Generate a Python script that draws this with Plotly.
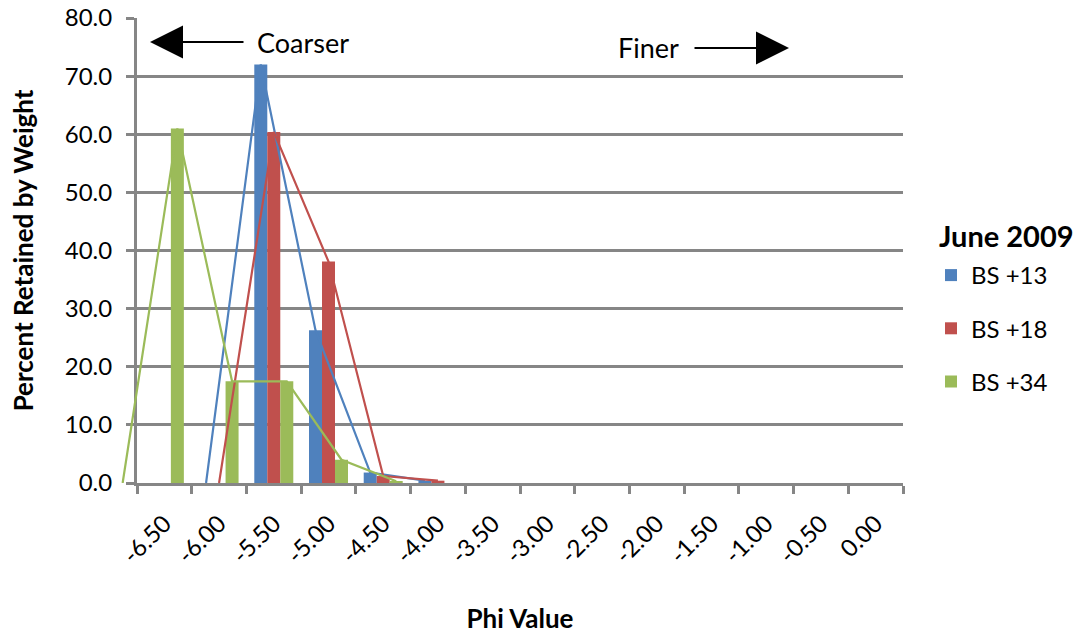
import plotly.graph_objects as go

# Sieve fractions: percent retained per phi class
phi_labels = ["-6.50", "-6.00", "-5.50", "-5.00", "-4.50", "-4.00", "-3.50",
              "-3.00", "-2.50", "-2.00", "-1.50", "-1.00", "-0.50", "0.00"]
bs13 = [0.0, 0.0, 72.0, 26.3, 1.8, 0.4, 0.0, 0.0, 0.0, 0.0, 0.0, 0.0, 0.0, 0.0]
bs18 = [0.0, 0.0, 60.4, 38.1, 1.2, 0.4, 0.0, 0.0, 0.0, 0.0, 0.0, 0.0, 0.0, 0.0]
bs34 = [61.0, 17.5, 17.5, 4.0, 0.3, 0.0, 0.0, 0.0, 0.0, 0.0, 0.0, 0.0, 0.0, 0.0]

# Frequency polygons: class index of each vertex and the percent at it
poly13_idx = [1, 2, 3, 4, 5]
poly13_val = [0.0, 72.0, 26.3, 1.8, 0.4]
poly18_idx = [1, 2, 3, 4, 5]
poly18_val = [0.0, 60.4, 38.1, 1.2, 0.4]
poly34_idx = [-1, 0, 1, 2, 3, 4]
poly34_val = [0.0, 61.0, 17.5, 17.5, 4.0, 0.3]

series_names = ["BS +13", "BS +18", "BS +34"]
legend_heading = "June 2009"
colors = ["#4F81BD", "#C0504D", "#9BBB59"]
grid = "#868686"
FONT = "Lato"

# page geometry (px)
W, H = 1076, 634
PL, PR, PT, PB = 137, 903, 18, 483      # plot area edges
EXTRA = 60                              # room left of the y axis for the polygons
ML = PL - EXTRA
paper_w = PR - ML
paper_h = PB - PT
n = len(phi_labels)
cat_px = (PR - PL) / n
bar_px = 13.0
bargap = 1 - 3 * bar_px / cat_px
bw = (1 - bargap) / 3                   # one bar's width in class units
offsets = [-bw, 0.0, bw]


def px_x(px):
    return (px - ML) / paper_w


def px_y(py):
    return (PB - py) / paper_h


fig = go.Figure()

for name, vals, col in zip(series_names, [bs13, bs18, bs34], colors):
    fig.add_trace(go.Bar(
        x=phi_labels, y=vals, name=name, marker=dict(color=col, line=dict(width=0)),
        legendgroup=name, xaxis="x", yaxis="y",
    ))

for name, idx, vals, col, off in zip(
        series_names,
        [poly13_idx, poly18_idx, poly34_idx],
        [poly13_val, poly18_val, poly34_val],
        colors, offsets):
    fig.add_trace(go.Scatter(
        x=[i + off for i in idx], y=vals, mode="lines",
        line=dict(color=col, width=2.2), showlegend=False,
        xaxis="x2", yaxis="y2", hoverinfo="skip",
    ))

x_left_val = -0.5 - EXTRA / cat_px

fig.update_layout(
    width=W, height=H,
    margin=dict(l=ML, r=W - PR, t=PT, b=H - PB, pad=0),
    paper_bgcolor="white", plot_bgcolor="rgba(0,0,0,0)",
    font=dict(family=FONT, size=24, color="black"),
    barmode="group", bargap=bargap, bargroupgap=0,
    xaxis=dict(
        type="category", categoryorder="array", categoryarray=phi_labels,
        domain=[EXTRA / paper_w, 1], range=[-0.5, n - 0.5],
        tickson="boundaries", ticks="outside", ticklen=8, tickwidth=3,
        tickcolor=grid, showline=True, linecolor=grid, linewidth=3,
        showgrid=False, tickangle=-45, tickfont=dict(family=FONT, size=24),
        ticklabelstandoff=14,
        title=dict(text="Phi Value", font=dict(family=FONT, size=26, weight="bold"),
                   standoff=48),
        automargin=False, fixedrange=True,
    ),
    yaxis=dict(
        range=[0, 80], dtick=10, tickformat=".1f",
        showgrid=True, gridcolor=grid, gridwidth=3,
        showline=True, linecolor=grid, linewidth=3,
        ticks="outside", ticklen=8, tickwidth=3, tickcolor=grid,
        zeroline=False, tickfont=dict(family=FONT, size=24),
        ticklabelstandoff=9,
        title=dict(text="Percent Retained by Weight",
                   font=dict(family=FONT, size=26, weight="bold"), standoff=24),
        automargin=False, fixedrange=True,
    ),
    xaxis2=dict(
        domain=[0, 1], range=[x_left_val, n - 0.5], anchor="y2",
        visible=False, showgrid=False, zeroline=False, fixedrange=True,
    ),
    yaxis2=dict(
        domain=[0, 1], range=[0, 80], anchor="x2", overlaying="y",
        visible=False, showgrid=False, zeroline=False, fixedrange=True,
    ),
    legend=dict(
        x=px_x(931), y=px_y(253), xanchor="left", yanchor="top",
        font=dict(family=FONT, size=24), tracegroupgap=19,
        bgcolor="rgba(0,0,0,0)", itemwidth=30,
    ),
    showlegend=True,
)

# heading over the legend entries
fig.add_annotation(x=px_x(1006), y=px_y(235), xref="paper", yref="paper",
                   xanchor="center", yanchor="middle", text=legend_heading,
                   showarrow=False,
                   font=dict(family=FONT, size=29, weight="bold", color="black"))

# direction hints across the top of the plot
arrow_style = dict(arrowhead=2, arrowsize=3.3, arrowwidth=2, arrowcolor="black")
fig.add_annotation(x=px_x(150), y=px_y(42), xref="paper", yref="paper",
                   text="", showarrow=True, ax=95, ay=0, **arrow_style)
fig.add_annotation(x=px_x(303), y=px_y(43), xref="paper", yref="paper",
                   xanchor="center", yanchor="middle",
                   text="Coarser", showarrow=False,
                   font=dict(family=FONT, size=27, color="black"))
fig.add_annotation(x=px_x(648), y=px_y(47), xref="paper", yref="paper",
                   xanchor="center", yanchor="middle",
                   text="Finer", showarrow=False,
                   font=dict(family=FONT, size=27, color="black"))
fig.add_annotation(x=px_x(789), y=px_y(48), xref="paper", yref="paper",
                   text="", showarrow=True, ax=-96, ay=0, **arrow_style)

fig.write_html("out.html")
